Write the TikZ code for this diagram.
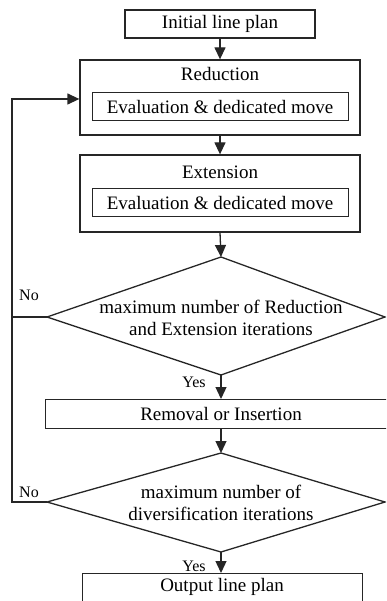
\documentclass[tikz,border=0pt]{standalone}
\usepackage{fontspec}
\setmainfont{Liberation Serif}
\usetikzlibrary{arrows.meta}
\begin{document}
\begin{tikzpicture}[x=1pt,y=-1pt,
  ln/.style={draw=black!85, line width=1.3pt},
  box/.style={ln, rectangle, inner sep=0pt, font=\fontsize{19}{22}\selectfont},
  inbox/.style={draw=black!85, line width=1pt, rectangle, inner sep=0pt, minimum width=256pt, minimum height=28pt, font=\fontsize{19}{22}\selectfont},
  txt/.style={inner sep=0pt, font=\fontsize{19}{22}\selectfont, align=center},
  lbl/.style={inner sep=0pt, font=\fontsize{16}{18}\selectfont},
  arr/.style={ln, -{Triangle[width=11pt,length=12pt]}}]
\useasboundingbox (0,0) rectangle (386,601);
\clip (0,0) rectangle (386,601);
% boxes
\node[box, minimum width=190pt, minimum height=28pt] (init) at (220,24) {Initial line plan};
\node[box, minimum width=280pt, minimum height=75pt] (red) at (220,97.5) {};
\node[txt] (redt) at (220,74) {Reduction};
\node[inbox] (redi) at (220,107) {Evaluation \& dedicated move};
\node[box, minimum width=280pt, minimum height=77pt] (ext) at (220,193.5) {};
\node[txt] (extt) at (220,172) {Extension};
\node[inbox] (exti) at (220,203) {Evaluation \& dedicated move};
% diamond 1
\coordinate (d1t) at (221,257);
\coordinate (d1l) at (47,317);
\coordinate (d1b) at (221,375);
\coordinate (d1r) at (385,317);
\draw[ln] (d1t) -- (d1r) -- (d1b) -- (d1l) -- cycle;
\node[txt] (d1) at (221,318) {maximum number of Reduction\\and Extension iterations};
% removal
\node[box, minimum width=355pt, minimum height=29pt, anchor=north west] (rem) at (45,399) {};
\node[txt] (remt) at (221,413.5) {Removal or Insertion};
% diamond 2
\coordinate (d2t) at (221,453);
\coordinate (d2l) at (47,502);
\coordinate (d2b) at (221,552);
\coordinate (d2r) at (385,502);
\draw[ln] (d2t) -- (d2r) -- (d2b) -- (d2l) -- cycle;
\node[txt] (d2) at (221,503) {maximum number of\\diversification iterations};
% output
\node[box, minimum width=280pt, minimum height=40pt, anchor=north west] (out) at (82,573) {};
\node[txt] (outt) at (222,587) {Output line plan};
% arrows
\draw[arr] (init.south) -- (init.south |- red.north);
\draw[arr] (red.south) -- (red.south |- ext.north);
\draw[arr] (ext.south) -- (d1t);
\draw[arr] (d1b) -- (d1b |- rem.north);
\draw[arr] (d1b |- rem.south) -- (d2t);
\draw[arr] (d2b) -- (d2b |- out.north);
% feedback
\coordinate (c0) at (12,99);
\coordinate (c1) at (12,317);
\coordinate (c2) at (12,502);
\draw[arr] (d1l) -- (c1) -- (c0) -- (c0 -| red.west);
\draw[ln] (d2l) -- (c2) -- (c1);
% labels
\node[lbl] (no1) at (29,295) {No};
\node[lbl] (no2) at (29,492) {No};
\node[lbl] (yes1) at (194,382) {Yes};
\node[lbl] (yes2) at (194,566) {Yes};
\end{tikzpicture}
\end{document}
